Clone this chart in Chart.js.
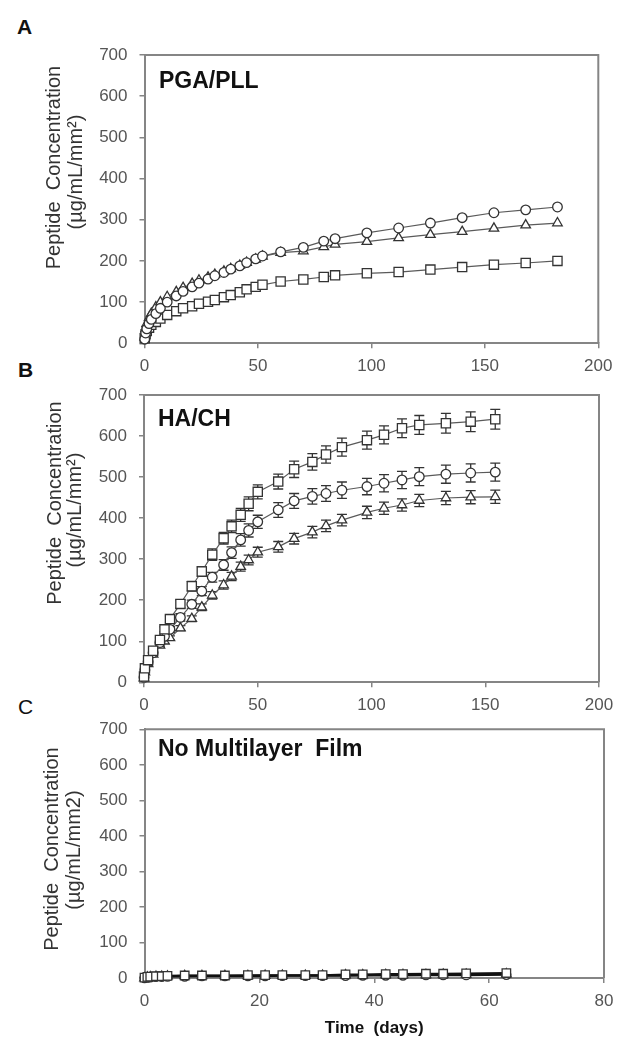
<!DOCTYPE html>
<html lang="en">
<head>
<meta charset="UTF-8">
<title>Peptide release from multilayer films</title>
<script src="https://cdn.jsdelivr.net/npm/chart.js"></script>
<style>
  body { margin: 0; background: #fff; font-family: "Liberation Sans", Arial, sans-serif; }
  #wrap { position: relative; width: 626px; height: 1050px; }
  canvas { position: absolute; left: 0; }
  .letter { position: absolute; font-weight: bold; font-size: 21px; line-height: 1; color: #111; }
</style>
</head>
<body>
<div id="wrap">
  <div class="letter" style="left:17px;top:16px">A</div>
  <div class="letter" style="left:18px;top:359px">B</div>
  <div class="letter" style="left:18px;top:696px;font-weight:normal">C</div>
  <canvas id="chartA" width="626" height="380" style="top:0"></canvas>
  <canvas id="chartB" width="626" height="350" style="top:370px"></canvas>
  <canvas id="chartC" width="626" height="350" style="top:700px"></canvas>
</div>
<script>
// panel A - PGA/PLL
const aDays = [0.1, 0.5, 1, 2, 3, 5, 7, 10, 14, 17, 21, 24, 28, 31, 35, 38, 42, 45, 49, 52, 60, 70, 79, 84, 98, 112, 126, 140, 154, 168, 182];
const aCircle = [10, 25, 35, 48, 58, 72, 85, 100, 115, 126, 137, 146, 156, 164, 172, 180, 188, 196, 205, 212, 222, 233, 248, 254, 268, 280, 292, 305, 317, 324, 331];
const aTriangle = [15, 35, 48, 62, 72, 88, 100, 113, 125, 135, 145, 153, 160, 167, 175, 181, 189, 196, 204, 211, 220, 224, 234, 240, 247, 256, 264, 271, 279, 287, 292];
const aSquare = [12, 22, 30, 38, 45, 52, 60, 69, 78, 85, 90, 96, 101, 105, 112, 117, 124, 131, 137, 142, 150, 155, 161, 165, 170, 173, 179, 185, 191, 195, 200];

// panel B - HA/CH (with error bars)
const bDays = [0, 0.4, 1.8, 4, 7, 9, 11.4, 16, 21, 25.4, 30, 35, 38.5, 42.5, 46, 50, 59, 66, 74, 80, 87, 98, 105.5, 113.4, 121, 132.7, 143.6, 154.4];
const bSquare = [14, 34, 54, 77, 103, 129, 154, 191, 234, 270, 311, 351, 380, 408, 435, 464, 489, 519, 537, 555, 573, 590, 603, 619, 627, 631, 635, 641];
const bSquareErr = [0, 2, 3, 4, 5, 6, 8, 10, 12, 12, 14, 14, 15, 16, 17, 17, 18, 20, 20, 21, 22, 22, 22, 23, 23, 24, 24, 24];
const bCircle = [12, 30, 50, 72, 97, 112, 129, 158, 190, 222, 256, 286, 316, 347, 370, 391, 420, 442, 453, 460, 468, 477, 485, 493, 501, 507, 510, 512];
const bCircleErr = [0, 2, 3, 4, 5, 6, 7, 9, 10, 11, 12, 13, 14, 15, 16, 16, 18, 18, 19, 19, 20, 20, 21, 21, 22, 22, 22, 22];
const bTriangle = [10, 25, 45, 68, 90, 100, 108, 132, 155, 183, 212, 237, 258, 282, 298, 317, 330, 350, 366, 381, 395, 414, 424, 432, 443, 449, 451, 452];
const bTriangleErr = [0, 1, 2, 3, 4, 5, 5, 6, 7, 8, 9, 10, 10, 11, 12, 12, 13, 13, 14, 14, 14, 15, 15, 15, 15, 16, 16, 16];

// panel C - no multilayer film
const cDays = [0, 0.5, 1, 2, 3, 4, 7, 10, 14, 18, 21, 24, 28, 31, 35, 38, 42, 45, 49, 52, 56, 63];
const cSquare = [1, 3, 4, 5, 5, 6, 7, 7, 7, 8, 8, 8, 8, 8, 10, 10, 11, 11, 12, 12, 13, 14];
const cTriangle = [0, 2, 3, 4, 4, 5, 6, 6, 6, 6, 7, 7, 7, 7, 8, 8, 9, 9, 9, 10, 10, 11];
const cCircle = [0, 1, 2, 3, 3, 4, 4, 5, 5, 5, 5, 6, 6, 6, 6, 7, 7, 7, 8, 8, 8, 9];

const FONT = '"Liberation Sans", Arial, sans-serif';
const AXIS = '#858585';
const TICK = '#555';

function series(days, values, style, radius, errors, lineColor, lineWidth) {
    return {
        data: days.map((d, i) => ({ x: d, y: values[i] })),
        errors: errors || null,
        showLine: true,
        borderColor: lineColor || '#5a5a5a',
        borderWidth: lineWidth || 1.2,
        pointStyle: style,
        pointRadius: radius,
        pointBorderColor: '#333',
        pointBackgroundColor: '#fff',
        pointBorderWidth: 1.3,
        clip: false
    };
}

// frame, error bars, panel name and rotated y title
const panelPlugin = {
    id: 'panel',
    beforeDatasetsDraw(chart) {
        const { ctx, chartArea: a, scales } = chart;
        ctx.save();
        ctx.strokeStyle = AXIS;
        ctx.lineWidth = 2;
        ctx.beginPath();
        ctx.moveTo(a.left, a.top);
        ctx.lineTo(a.right, a.top);
        ctx.lineTo(a.right, a.bottom);
        ctx.stroke();

        ctx.strokeStyle = '#333';
        ctx.lineWidth = 1.3;
        chart.data.datasets.forEach(ds => {
            if (!ds.errors) return;
            ds.data.forEach((p, i) => {
                const e = ds.errors[i];
                if (!e) return;
                const x = scales.x.getPixelForValue(p.x);
                const y1 = scales.y.getPixelForValue(p.y + e);
                const y2 = scales.y.getPixelForValue(p.y - e);
                ctx.beginPath();
                ctx.moveTo(x, y1); ctx.lineTo(x, y2);
                ctx.moveTo(x - 5, y1); ctx.lineTo(x + 5, y1);
                ctx.moveTo(x - 5, y2); ctx.lineTo(x + 5, y2);
                ctx.stroke();
            });
        });
        ctx.restore();
    },
    afterDraw(chart, args, opts) {
        const ctx = chart.ctx;
        ctx.save();
        ctx.fillStyle = '#111';
        ctx.textBaseline = 'middle';
        ctx.font = 'bold 23px ' + FONT;
        ctx.fillText(opts.label, opts.labelX, opts.labelY);

        ctx.fillStyle = '#333';
        ctx.font = '20px ' + FONT;
        ctx.textAlign = 'center';
        [[opts.title, opts.t1x, opts.t1y], [opts.unit, opts.t2x, opts.t2y]].forEach(([txt, x, y]) => {
            ctx.save();
            ctx.translate(x, y);
            ctx.rotate(-Math.PI / 2);
            ctx.fillText(txt, 0, 0);
            ctx.restore();
        });
        ctx.restore();
    }
};

function makeChart(id, datasets, p) {
    const tickFont = { family: FONT, size: 17 };
    return new Chart(document.getElementById(id), {
        type: 'scatter',
        data: { datasets },
        options: {
            responsive: false,
            animation: false,
            events: [],
            layout: { padding: { left: 0, top: p.top, right: p.right, bottom: 0 } },
            plugins: {
                legend: { display: false },
                tooltip: { enabled: false },
                panel: p.text
            },
            scales: {
                x: {
                    type: 'linear',
                    min: 0,
                    max: p.xMax,
                    ticks: { stepSize: p.xStep, color: TICK, font: tickFont, padding: 8, maxRotation: 0 },
                    grid: { drawOnChartArea: false, tickLength: 5, color: AXIS, lineWidth: 1.5 },
                    border: { color: AXIS, width: 2 },
                    title: p.xTitle ? {
                        display: true,
                        text: p.xTitle,
                        color: '#111',
                        font: { family: FONT, size: 17, weight: 'bold' },
                        padding: { top: 0, bottom: 11.5 }
                    } : { display: false },
                    afterFit: s => { s.height = p.xHeight; }
                },
                y: {
                    min: 0,
                    max: 700,
                    ticks: { stepSize: 100, color: TICK, font: tickFont, padding: 12 },
                    grid: { drawOnChartArea: false, tickLength: 5, color: AXIS, lineWidth: 1.5 },
                    border: { color: AXIS, width: 2 },
                    afterFit: s => { s.width = p.yWidth; }
                }
            }
        },
        plugins: [panelPlugin]
    });
}

makeChart('chartA', [
    series(aDays, aCircle, 'circle', 4.8),
    series(aDays, aTriangle, 'triangle', 5.5),
    series(aDays, aSquare, 'rect', 6.5)
], {
    top: 55, right: 27.7, xHeight: 36.7, yWidth: 144.5, xMax: 200, xStep: 50,
    text: { label: 'PGA/PLL', labelX: 159, labelY: 82, title: 'Peptide  Concentration', unit: '(µg/mL/mm²)', t1x: 54, t1y: 167.5, t2x: 76, t2y: 172 }
});

makeChart('chartB', [
    series(bDays, bSquare, 'rect', 6.5, bSquareErr),
    series(bDays, bCircle, 'circle', 4.8, bCircleErr),
    series(bDays, bTriangle, 'triangle', 5.5, bTriangleErr)
], {
    top: 25, right: 27, xHeight: 37.7, yWidth: 144, xMax: 200, xStep: 50,
    text: { label: 'HA/CH', labelX: 158, labelY: 49.3, title: 'Peptide  Concentration', unit: '(µg/mL/mm²)', t1x: 55, t1y: 133, t2x: 75, t2y: 140 }
});

makeChart('chartC', [
    series(cDays, cSquare, 'rect', 6, null, '#111', 2),
    series(cDays, cTriangle, 'triangle', 5.5, null, '#111', 2),
    series(cDays, cCircle, 'circle', 4.5, null, '#111', 2)
], {
    top: 29.3, right: 22, xHeight: 72, yWidth: 144.5, xMax: 80, xStep: 20, xTitle: 'Time  (days)',
    text: { label: 'No Multilayer  Film', labelX: 158, labelY: 50, title: 'Peptide  Concentration', unit: '(µg/mL/mm2)', t1x: 52, t1y: 149, t2x: 74, t2y: 150 }
});
</script>
</body>
</html>
